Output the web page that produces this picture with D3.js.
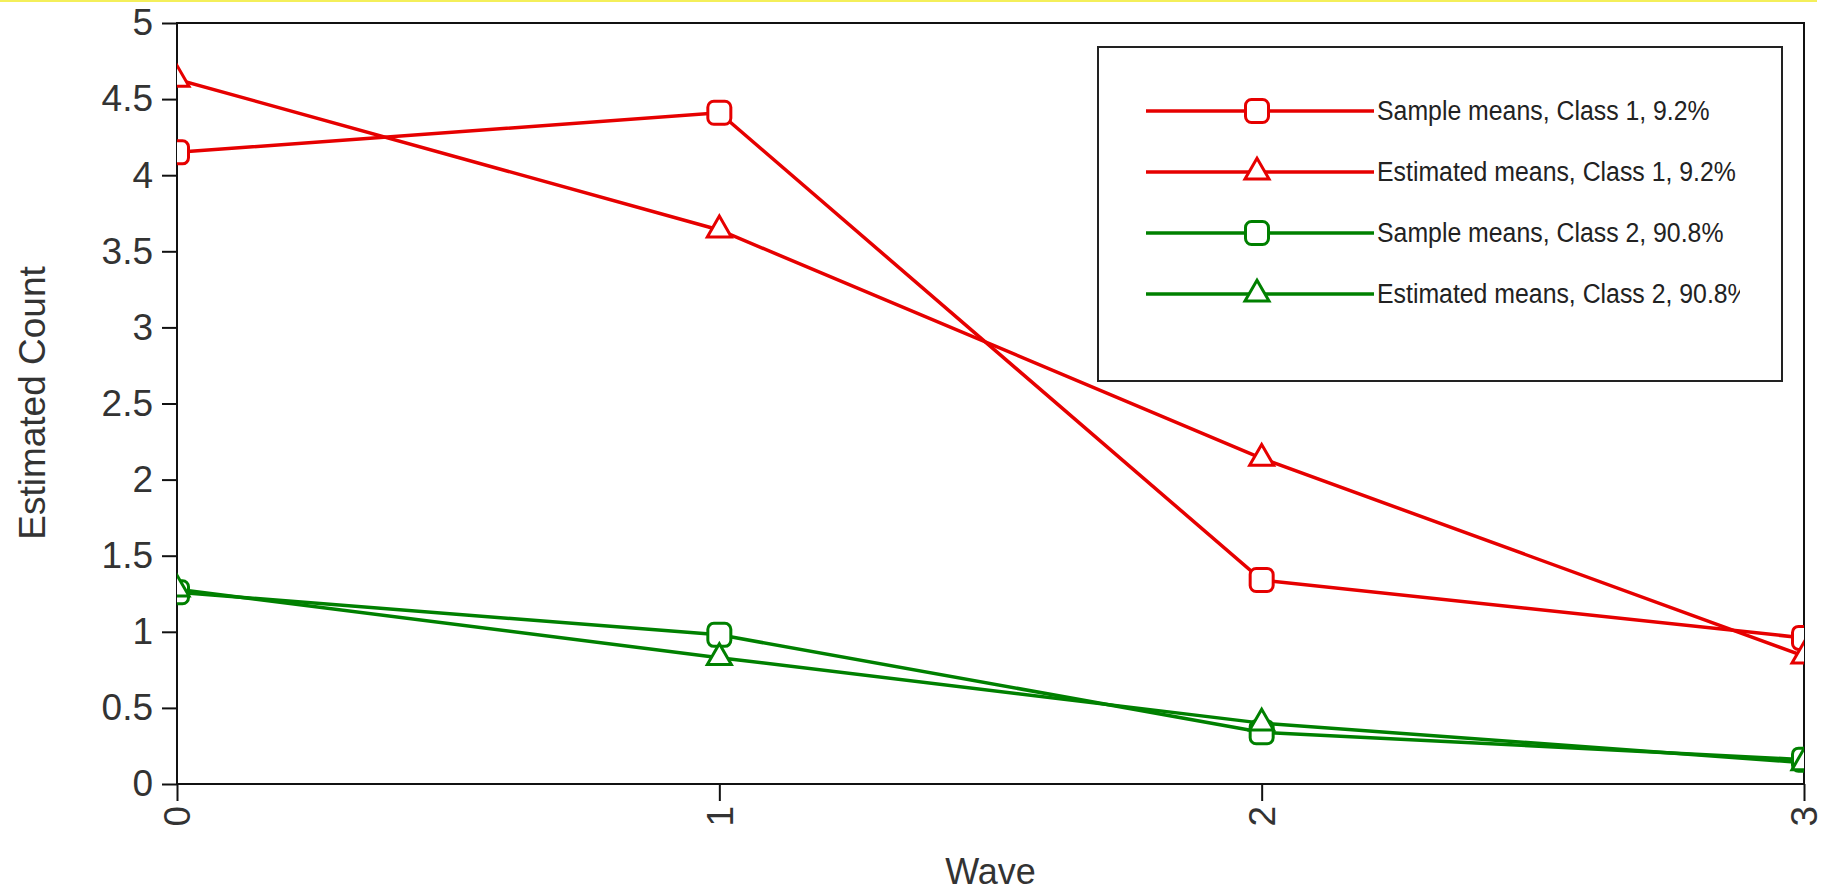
<!DOCTYPE html>
<html>
<head>
<meta charset="utf-8">
<script src="https://cdn.jsdelivr.net/npm/d3@7"></script>
<style>
    html, body { margin: 0; padding: 0; background: #fff; }
    svg { display: block; font-family: "Liberation Sans", Arial, sans-serif; }
</style>
</head>
<body>
<svg id="chart" width="1828" height="893"></svg>
<script>
// values
const waves = [0, 1, 2, 3];
const yTicks = [0, 0.5, 1, 1.5, 2, 2.5, 3, 3.5, 4, 4.5, 5];
const sampleClass1 = [4.15, 4.41, 1.34, 0.96];
const estimatedClass1 = [4.63, 3.64, 2.14, 0.84];
const sampleClass2 = [1.26, 0.98, 0.34, 0.16];
const estimatedClass2 = [1.28, 0.83, 0.40, 0.14];
const seriesNames = [
    'Sample means, Class 1, 9.2%',
    'Estimated means, Class 1, 9.2%',
    'Sample means, Class 2, 90.8%',
    'Estimated means, Class 2, 90.8%'
];

const RED = '#e60000';
const GREEN = '#008000';

const series = [
    { name: seriesNames[0], values: sampleClass1, color: RED, marker: 'square' },
    { name: seriesNames[1], values: estimatedClass1, color: RED, marker: 'triangle' },
    { name: seriesNames[2], values: sampleClass2, color: GREEN, marker: 'square' },
    { name: seriesNames[3], values: estimatedClass2, color: GREEN, marker: 'triangle' }
];

const size = { left: 177, right: 1804, top: 23, bottom: 784 };

const svg = d3.select('#chart');

// thin yellow strip along the top edge
svg.append('rect')
    .attr('x', 0).attr('y', 0)
    .attr('width', 1817).attr('height', 2)
    .attr('fill', '#f4ef5a');

const x = d3.scaleLinear().domain([0, 3]).range([size.left, size.right]);
const y = d3.scaleLinear().domain([0, 5]).range([size.bottom, size.top]);

svg.append('defs').append('clipPath')
    .attr('id', 'plotClip')
    .append('rect')
    .attr('x', size.left).attr('y', size.top)
    .attr('width', size.right - size.left)
    .attr('height', size.bottom - size.top);

svg.select('defs').append('clipPath')
    .attr('id', 'legendClip')
    .append('rect')
    .attr('x', 1098).attr('y', 47)
    .attr('width', 1740 - 1098).attr('height', 335);

function drawMarker(g, type, color) {
    if (type === 'square') {
        g.append('rect')
            .attr('x', -11.5).attr('y', -11.5)
            .attr('width', 23).attr('height', 23)
            .attr('rx', 6)
            .attr('fill', '#fff')
            .attr('stroke', color)
            .attr('stroke-width', 3);
    } else {
        g.append('path')
            .attr('d', d3.symbol(d3.symbolTriangle, 250)())
            .attr('fill', '#fff')
            .attr('stroke', color)
            .attr('stroke-width', 3);
    }
}

// axes
const yAxis = d3.axisLeft(y)
    .tickValues(yTicks)
    .tickFormat(d3.format('~g'))
    .tickSize(15)
    .tickPadding(9);

const gy = svg.append('g')
    .attr('transform', `translate(${size.left},0)`)
    .call(yAxis);
gy.select('.domain').remove();
gy.selectAll('line').attr('stroke', '#111').attr('stroke-width', 2);
gy.selectAll('text')
    .attr('font-size', 37)
    .attr('fill', '#333')
    .attr('font-family', '"Liberation Sans", Arial, sans-serif');

const xAxis = d3.axisBottom(x)
    .tickValues(waves)
    .tickFormat(d3.format('d'))
    .tickSize(17);

const gx = svg.append('g')
    .attr('transform', `translate(0,${size.bottom})`)
    .call(xAxis);
gx.select('.domain').remove();
gx.selectAll('line').attr('stroke', '#111').attr('stroke-width', 2);
gx.selectAll('text')
    .attr('font-size', 37)
    .attr('fill', '#333')
    .attr('font-family', '"Liberation Sans", Arial, sans-serif')
    .attr('text-anchor', 'end')
    .attr('y', 0)
    .attr('dy', '0.35em')
    .attr('transform', 'translate(0,22) rotate(-90)');

// plot frame
svg.append('rect')
    .attr('x', size.left).attr('y', size.top)
    .attr('width', size.right - size.left)
    .attr('height', size.bottom - size.top)
    .attr('fill', 'none')
    .attr('stroke', '#111')
    .attr('stroke-width', 2);

// series
const plot = svg.append('g').attr('clip-path', 'url(#plotClip)');
const line = d3.line()
    .x((d, i) => x(waves[i]))
    .y(d => y(d));

series.forEach(s => {
    plot.append('path')
        .attr('d', line(s.values))
        .attr('fill', 'none')
        .attr('stroke', s.color)
        .attr('stroke-width', 3.5);
});
series.forEach(s => {
    s.values.forEach((v, i) => {
        const m = plot.append('g')
            .attr('transform', `translate(${x(waves[i])},${y(v)})`);
        drawMarker(m, s.marker, s.color);
    });
});

// axis titles
svg.append('text')
    .attr('transform', 'translate(45,403) rotate(-90)')
    .attr('text-anchor', 'middle')
    .attr('font-size', 37)
    .attr('fill', '#333')
    .text('Estimated Count');

svg.append('text')
    .attr('x', (size.left + size.right) / 2)
    .attr('y', 884)
    .attr('text-anchor', 'middle')
    .attr('font-size', 36)
    .attr('fill', '#333')
    .text('Wave');

// legend
svg.append('rect')
    .attr('x', 1098).attr('y', 47)
    .attr('width', 1782 - 1098).attr('height', 381 - 47)
    .attr('fill', '#fff')
    .attr('stroke', '#222')
    .attr('stroke-width', 2);

const legendRowY = d3.scalePoint().domain(seriesNames).range([111, 294]);

series.forEach(s => {
    const ry = legendRowY(s.name);
    svg.append('line')
        .attr('x1', 1146).attr('x2', 1374)
        .attr('y1', ry).attr('y2', ry)
        .attr('stroke', s.color)
        .attr('stroke-width', 3.5);
    const m = svg.append('g').attr('transform', `translate(1257,${ry})`);
    drawMarker(m, s.marker, s.color);
    svg.append('g')
        .attr('clip-path', 'url(#legendClip)')
        .append('text')
        .attr('transform', `translate(1377,${ry + 9}) scale(0.92,1)`)
        .attr('font-size', 27)
        .attr('fill', '#222')
        .text(s.name);
});
</script>
</body>
</html>
